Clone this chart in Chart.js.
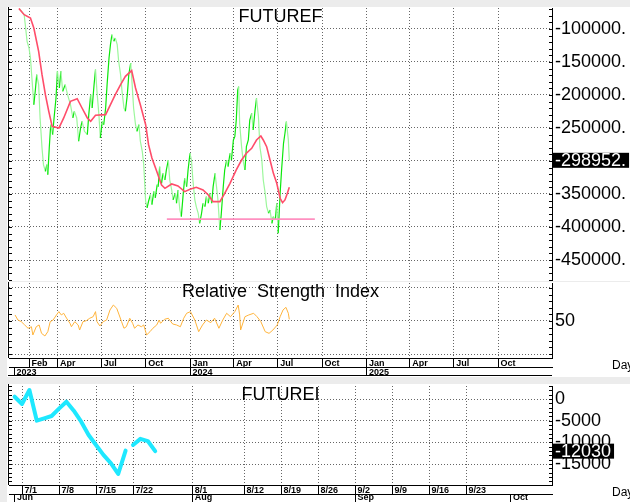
<!DOCTYPE html>
<html lang="en">
<head>
<meta charset="UTF-8">
<title>FUTUREF / FUTUREI</title>
<script src="https://cdn.jsdelivr.net/npm/chart.js"></script>
<style>
  body { margin: 0; width: 630px; height: 502px; background: #ececec; position: relative; overflow: hidden; }
  canvas { position: absolute; left: 7px; background: #fff; }
  #top { top: 7px; }
  #rsi { top: 282px; }
  #bottom { top: 384px; }
</style>
</head>
<body>
<canvas id="top" width="623" height="274"></canvas>
<canvas id="rsi" width="623" height="95"></canvas>
<canvas id="bottom" width="623" height="118"></canvas>
<script>
// FUTUREF close (roughly every 3-4 days)
const closeDates = [
  '2023-01-12','2023-01-22','2023-01-25','2023-01-28','2023-02-01','2023-02-04','2023-02-07','2023-02-11','2023-02-14','2023-02-17',
  '2023-02-21','2023-02-24','2023-02-28','2023-03-03','2023-03-07','2023-03-10','2023-03-12','2023-03-15','2023-03-18','2023-03-22',
  '2023-03-25','2023-03-29','2023-04-01','2023-04-05','2023-04-08','2023-04-12','2023-04-17','2023-04-22','2023-04-28','2023-05-03',
  '2023-05-06','2023-05-11','2023-05-15','2023-05-19','2023-05-22','2023-05-27','2023-06-02','2023-06-05','2023-06-09','2023-06-12',
  '2023-06-16','2023-06-19','2023-06-22','2023-06-26','2023-06-29','2023-07-03','2023-07-06','2023-07-10','2023-07-13','2023-07-17',
  '2023-07-20','2023-07-23','2023-07-27','2023-07-30','2023-08-03','2023-08-06','2023-08-10','2023-08-13','2023-08-17','2023-08-20',
  '2023-08-24','2023-08-27','2023-08-31','2023-09-03','2023-09-06','2023-09-10','2023-09-13','2023-09-17','2023-09-20','2023-09-24',
  '2023-09-27','2023-10-01','2023-10-04','2023-10-07','2023-10-11','2023-10-14','2023-10-18','2023-10-21','2023-10-25','2023-10-27',
  '2023-10-30','2023-11-03','2023-11-06','2023-11-10','2023-11-13','2023-11-17','2023-11-20','2023-11-24','2023-11-27','2023-12-01',
  '2023-12-04','2023-12-07','2023-12-11','2023-12-14','2023-12-18','2023-12-21','2023-12-25','2023-12-28','2024-01-01','2024-01-04',
  '2024-01-07','2024-01-11','2024-01-14','2024-01-18','2024-01-21','2024-01-25','2024-01-28','2024-02-01','2024-02-04','2024-02-08',
  '2024-02-11','2024-02-15','2024-02-18','2024-02-22','2024-02-25','2024-02-28','2024-03-03','2024-03-06','2024-03-10','2024-03-13',
  '2024-03-17','2024-03-20','2024-03-24','2024-03-27','2024-03-31','2024-04-03','2024-04-06','2024-04-09','2024-04-11','2024-04-13',
  '2024-04-17','2024-04-20','2024-04-24','2024-04-27','2024-05-01','2024-05-04','2024-05-08','2024-05-11','2024-05-15','2024-05-18',
  '2024-05-22','2024-05-25','2024-05-29','2024-06-01','2024-06-05','2024-06-08','2024-06-12','2024-06-15','2024-06-19','2024-06-22',
  '2024-06-26','2024-06-29','2024-07-02','2024-07-06','2024-07-09','2024-07-13','2024-07-16','2024-07-19','2024-07-23','2024-07-25'
];
const closeValues = [
  -69000, -78300, -98500, -118700, -128800, -144000, -174000, -214700, -194000, -169200,
  -184300, -234800, -280300, -305500, -315600, -305500, -320700, -280300, -245000, -260000,
  -234800, -204500, -164100, -189400, -164100, -194500, -184300, -199500, -214700, -234800,
  -224700, -234800, -270100, -250000, -239800, -255000, -260000, -229800, -199500, -219700,
  -184300, -161600, -194500, -229800, -265100, -239800, -245000, -219700, -184300, -144000,
  -123800, -108600, -118700, -113600, -123800, -148900, -169200, -194500, -219700, -224700,
  -199500, -169200, -151500, -184300, -219700, -245000, -255000, -245000, -270100, -285300,
  -305500, -361000, -371200, -361000, -351000, -366200, -346000, -356000, -335900, -339000,
  -308600, -333800, -318700, -328800, -313600, -298500, -328800, -343900, -359000, -349000,
  -364000, -343900, -374200, -384300, -349000, -326300, -339000, -313600, -288300, -298500,
  -328800, -359000, -369100, -379200, -394400, -379200, -364000, -369100, -354000, -364000,
  -349000, -364000, -338900, -318700, -338900, -359000, -404500, -379200, -338900, -313600,
  -298500, -308600, -288300, -298500, -268200, -263100, -237900, -192400, -187400, -242900,
  -278300, -298500, -313600, -278300, -268200, -237900, -227800, -253000, -222700, -205000,
  -232900, -278300, -298500, -328800, -349000, -369100, -379200, -374200, -394400, -384300,
  -389400, -364000, -409500, -349000, -313600, -273200, -258000, -240400, -268000, -298952
];

// moving average
const maDates = [
  '2023-01-11','2023-01-22','2023-02-04','2023-02-11','2023-02-21','2023-02-28','2023-03-07','2023-03-14','2023-03-21','2023-04-04',
  '2023-04-14','2023-04-28','2023-05-12','2023-05-22','2023-06-02','2023-06-09','2023-06-19','2023-07-10','2023-07-20','2023-07-30',
  '2023-08-10','2023-08-20','2023-09-02','2023-09-10','2023-09-20','2023-10-01','2023-10-07','2023-10-14','2023-10-23','2023-11-03',
  '2023-11-10','2023-11-24','2023-12-07','2023-12-21','2024-01-01','2024-01-14','2024-01-28','2024-02-08','2024-02-18','2024-03-03',
  '2024-03-13','2024-03-24','2024-04-06','2024-04-17','2024-04-27','2024-05-08','2024-05-18','2024-05-27','2024-06-01','2024-06-08',
  '2024-06-15','2024-06-22','2024-06-29','2024-07-06','2024-07-11','2024-07-16','2024-07-21','2024-07-25'
];
const maValues = [
  -69000, -78300, -83300, -98500, -133800, -169200, -199500, -224700, -247400, -250000,
  -234800, -209600, -205600, -219700, -234800, -239800, -230800, -229800, -214700, -199500,
  -184300, -171700, -163100, -189400, -214700, -245000, -275300, -295500, -313600, -336400,
  -341400, -334800, -337900, -346500, -342900, -339900, -343900, -351500, -361600, -361600,
  -349000, -333800, -313600, -298500, -288300, -280800, -268200, -262100, -268200, -278300,
  -298500, -318700, -333800, -356500, -363200, -359000, -349000, -339900
];

// support line
const supportDates = ['2023-11-14', '2024-09-16'];
const supportValues = [-388000, -388000];

// Relative Strength Index
const rsiDates = [
  '2023-01-03','2023-01-09','2023-01-16','2023-01-23','2023-01-30','2023-02-06','2023-02-09','2023-02-16','2023-02-22','2023-02-27',
  '2023-03-06','2023-03-12','2023-03-17','2023-03-23','2023-03-30','2023-04-04','2023-04-09','2023-04-14','2023-04-20','2023-04-27',
  '2023-04-30','2023-05-07','2023-05-14','2023-05-17','2023-05-24','2023-05-31','2023-06-07','2023-06-14','2023-06-19','2023-06-22',
  '2023-06-28','2023-07-05','2023-07-12','2023-07-19','2023-07-26','2023-08-02','2023-08-07','2023-08-12','2023-08-17','2023-08-22',
  '2023-08-29','2023-09-04','2023-09-08','2023-09-15','2023-09-22','2023-09-27','2023-10-03','2023-10-10','2023-10-16','2023-10-24',
  '2023-10-29','2023-11-01','2023-11-09','2023-11-17','2023-11-26','2023-12-04','2023-12-12','2023-12-19','2023-12-25','2024-01-02',
  '2024-01-11','2024-01-19','2024-01-27','2024-02-04','2024-02-13','2024-02-21','2024-03-01','2024-03-09','2024-03-17','2024-03-25',
  '2024-04-03','2024-04-10','2024-04-13','2024-04-15','2024-04-24','2024-05-02','2024-05-12','2024-05-19','2024-05-27','2024-06-05',
  '2024-06-13','2024-06-21','2024-06-30','2024-07-06','2024-07-12','2024-07-18','2024-07-23','2024-07-25'
];
const rsiValues = [
  55.5, 50.9, 49.4, 46.4, 43.4, 44.8, 37.3, 44.8, 46.4, 38.8,
  36.4, 40.3, 49.4, 50.9, 55.5, 58.5, 55.5, 57, 52.5, 47.9,
  44.8, 49.4, 46.4, 41.8, 49.4, 50.3, 52.5, 53.9, 58.5, 49.4,
  45.5, 49.4, 50.9, 60, 64.5, 61.5, 55.5, 49.4, 43.4, 44.8,
  52.5, 47.9, 43.4, 46.4, 44.8, 46.4, 37.3, 40.3, 43.4, 46.4,
  50.9, 47.9, 51.5, 52.5, 47.3, 46.4, 44.8, 52.5, 57, 58.5,
  50.9, 40.3, 46.4, 50.9, 48.5, 52.5, 43.4, 50.9, 57, 53.9,
  58.5, 64.5, 55.5, 41.8, 53.9, 55.5, 57, 53.9, 49.4, 40.3,
  38.8, 41.8, 46.4, 53.9, 60, 62.4, 57, 51.5
];

// FUTUREI (two pieces, the line breaks after 7/19)
const futureiDatesA = ['2024-06-28','2024-07-01','2024-07-02','2024-07-03','2024-07-04','2024-07-05','2024-07-08','2024-07-09',
  '2024-07-10','2024-07-11','2024-07-12','2024-07-15','2024-07-16','2024-07-17','2024-07-18','2024-07-19'];
const futureiValuesA = [530, -1150, 2070, -5000, -4450, -3920, -2230, -620, -2700, -5230, -8300, -10600, -12900, -14800, -17300, -11900];
const futureiDatesB = ['2024-07-22','2024-07-23','2024-07-24','2024-07-25'];
const futureiValuesB = [-10600, -9200, -9700, -12030];

// axis ticks
const priceTicks = [-100000, -150000, -200000, -250000, -300000, -350000, -400000, -450000];
const priceTickLabels = ['-100000.', '-150000.', '-200000.', '-250000.', '', '-350000.', '-400000.', '-450000.'];
const rsiTicks = [20, 50, 80];
const rsiTickLabels = ['', '50', ''];
const futureiTicks = [0, -5000, -10000, -15000];
const futureiTickLabels = ['0', '-5000', '-10000', '-15000'];
const monthTickDates = ['2023-02-01','2023-04-01','2023-07-01','2023-10-01','2024-01-01','2024-04-01','2024-07-01','2024-10-01',
  '2025-01-01','2025-04-01','2025-07-01','2025-10-01'];
const monthTickLabels = ['Feb','Apr','Jul','Oct','Jan','Apr','Jul','Oct','Jan','Apr','Jul','Oct'];
const yearTickDates = ['2023-01-01','2024-01-01','2025-01-01'];
const yearTickLabels = ['2023','2024','2025'];
const dayTickDates = ['2024-07-01','2024-07-08','2024-07-15','2024-07-22','2024-08-01','2024-08-12','2024-08-19','2024-08-26',
  '2024-09-02','2024-09-09','2024-09-16','2024-09-23'];
const dayTickLabels = ['7/1','7/8','7/15','7/22','8/1','8/12','8/19','8/26','9/2','9/9','9/16','9/23'];
const dayMonthDates = ['2024-06-28','2024-08-01','2024-09-02','2024-10-01'];
const dayMonthLabels = ['Jun','Aug','Sep','Oct'];

// helpers: calendar days since 2023-01-01, trading days since 2024-07-01
const DAY = 86400000;
function utc(s) { const [y, m, d] = s.split('-').map(Number); return Date.UTC(y, m - 1, d); }
function dayNum(s) { return (utc(s) - Date.UTC(2023, 0, 1)) / DAY; }
function tradeNum(s) {
  const diff = (utc(s) - Date.UTC(2024, 6, 1)) / DAY;
  const w = Math.floor(diff / 7);
  return w * 5 + Math.min(diff - w * 7, 5);
}
const pts = (dates, vals, f) => dates.map((d, i) => ({x: f(d), y: vals[i]}));

const FONT = '"Liberation Sans", Arial, sans-serif';
const BIG = {family: FONT, size: 18};
const SMALL = {family: FONT, size: 9, weight: 'bold'};
const GRID = '#666666';

// right-hand value axis, dotted grid lines at each tick
function yAxis(min, max, ticks, labels) {
  return {
    position: 'right', min, max, bounds: 'data',
    afterBuildTicks: s => { s.ticks = ticks.map(v => ({value: v})); },
    afterFit: s => { s.width = 78; s.paddingTop = 0; s.paddingBottom = 0; },
    ticks: {callback: (v, i) => labels[i], color: '#000', font: BIG, padding: 3, autoSkip: false},
    grid: {color: GRID, lineWidth: 1, drawTicks: false},
    border: {display: true, color: '#000', dash: [1, 2]}
  };
}

// date rows under the plot; labels sit right of the tick line
function xAxis(min, max, ticks, labels, o) {
  return {
    type: 'linear', axis: 'x', position: 'bottom', min, max, bounds: 'data',
    weight: o.weight || 0,
    afterBuildTicks: s => { s.ticks = ticks.map(v => ({value: v})); },
    afterFit: s => { s.height = o.height; s.paddingLeft = 0; s.paddingRight = 0; },
    ticks: {display: o.labels !== false, callback: (v, i) => ' ' + labels[i], autoSkip: false, maxRotation: 0,
      align: 'start', color: '#000', font: SMALL, padding: -o.tick - (o.shift || 0)},
    grid: {color: GRID, lineWidth: 1, drawOnChartArea: o.area, drawTicks: o.tick > 0, tickLength: o.tick || 1,
      tickColor: '#000', tickBorderDash: []},
    border: {display: o.border, color: '#000', dash: [1, 2]}
  };
}

// titles, side tick marks, last value box, "Day" label
const decor = {
  id: 'decor',
  afterDraw(chart, args, o) {
    const {ctx, chartArea: a, scales} = chart;
    const y = scales.y;
    ctx.save();
    ctx.strokeStyle = '#000';
    ctx.lineWidth = 1;
    ctx.beginPath();
    ctx.moveTo(a.left - 0.5, 0);
    ctx.lineTo(a.left - 0.5, a.bottom);
    const marks = [];
    for (let v = o.base; v >= y.min; v -= o.step) marks.push(v);
    for (let v = o.base + o.step; v <= y.max; v += o.step) marks.push(v);
    marks.forEach(v => {
      const py = Math.round(y.getPixelForValue(v)) + 0.5;
      ctx.moveTo(a.left, py); ctx.lineTo(a.left + 3, py);
      ctx.moveTo(a.right - 3, py); ctx.lineTo(a.right, py);
    });
    if (o.bottomLine) {
      ctx.moveTo(a.left - 1, scales.x2.bottom - 0.5);
      ctx.lineTo(a.right, scales.x2.bottom - 0.5);
    }
    ctx.stroke();

    ctx.fillStyle = '#000';
    ctx.font = '18px ' + FONT;
    ctx.textAlign = 'center';
    ctx.textBaseline = 'alphabetic';
    ctx.fillText(o.title, (a.left + a.right) / 2, a.top + 14);

    if (o.last) {
      const py = y.getPixelForValue(o.last.value);
      const w = ctx.measureText(o.last.text).width + 5;
      ctx.fillStyle = '#000';
      ctx.fillRect(a.right + 1, py - 7.5, w, 15);
      ctx.fillStyle = '#fff';
      ctx.textAlign = 'left';
      ctx.textBaseline = 'middle';
      ctx.fillText(o.last.text, a.right + 3, py + 1);
    }
    if (o.day) {
      ctx.fillStyle = '#000';
      ctx.font = '12px ' + FONT;
      ctx.textAlign = 'left';
      ctx.textBaseline = 'middle';
      ctx.fillText('Day', a.right + 60, scales.x2.top - 1);
    }
    ctx.restore();
  }
};

const base = {
  animation: false, responsive: false, devicePixelRatio: 1,
  elements: {point: {radius: 0}, line: {tension: 0}},
  events: []
};

// top: FUTUREF
const dMin = -10.5, dMax = 1116;
new Chart(document.getElementById('top'), {
  type: 'line',
  data: {
    datasets: [
      {data: pts(maDates, maValues, dayNum), borderColor: '#ff4d6a', borderWidth: 1.6},
      {data: pts(supportDates, supportValues, dayNum), borderColor: '#ff90c0', borderWidth: 1.6},
      {data: pts(closeDates, closeValues, dayNum), borderColor: '#22ee22', borderWidth: 1.2,
        segment: {borderColor: c => c.p1.parsed.y >= c.p0.parsed.y ? '#0ce80c' : '#9cf79c'}}
    ]
  },
  options: {
    ...base,
    layout: {padding: {left: 2, top: 1, right: 0, bottom: 1}},
    scales: {
      x: xAxis(dMin, dMax, monthTickDates.map(dayNum), monthTickLabels, {height: 0, tick: 0, area: true, labels: false, border: false}),
      y: yAxis(-480300, -68200, priceTicks, priceTickLabels)
    },
    plugins: {
      legend: {display: false}, tooltip: {enabled: false},
      decor: {title: 'FUTUREF', step: 10000, base: 0,
        last: {value: closeValues[closeValues.length - 1], text: closeValues[closeValues.length - 1] + '.'}}
    }
  },
  plugins: [decor]
});

// middle: RSI
new Chart(document.getElementById('rsi'), {
  type: 'line',
  data: {
    datasets: [
      {data: pts(rsiDates, rsiValues, dayNum), borderColor: '#ffb43c', borderWidth: 1}
    ]
  },
  options: {
    ...base,
    layout: {padding: {left: 2, top: 1, right: 0, bottom: 1}},
    scales: {
      x: xAxis(dMin, dMax, monthTickDates.map(dayNum), monthTickLabels, {height: 9, tick: 9, area: true, border: true}),
      x2: xAxis(dMin, dMax, yearTickDates.map(dayNum), yearTickLabels, {height: 9, tick: 9, area: false, border: true, weight: 1}),
      y: yAxis(16.4, 84.5, rsiTicks, rsiTickLabels)
    },
    plugins: {
      legend: {display: false}, tooltip: {enabled: false},
      decor: {title: 'Relative  Strength  Index', step: 6, base: 50, day: true, bottomLine: true}
    }
  },
  plugins: [decor]
});

// bottom: FUTUREI on a trading-day axis
const tMin = -1.757, tMax = 71.62;
const cyan = {borderColor: '#1ee8ff', borderWidth: 4, borderJoinStyle: 'round', borderCapStyle: 'round'};
new Chart(document.getElementById('bottom'), {
  type: 'line',
  data: {
    datasets: [
      {data: pts(futureiDatesA, futureiValuesA, tradeNum), ...cyan},
      {data: pts(futureiDatesB, futureiValuesB, tradeNum), ...cyan}
    ]
  },
  options: {
    ...base,
    layout: {padding: {left: 2, top: 2, right: 0, bottom: 0}},
    scales: {
      x: xAxis(tMin, tMax, dayTickDates.map(tradeNum), dayTickLabels, {height: 9, tick: 9, area: true, border: true}),
      x2: xAxis(tMin, tMax, dayMonthDates.map(tradeNum), dayMonthLabels, {height: 8, tick: 8, area: false, border: true, weight: 1, shift: 2}),
      y: yAxis(-19840, 3000, futureiTicks, futureiTickLabels)
    },
    plugins: {
      legend: {display: false}, tooltip: {enabled: false},
      decor: {title: 'FUTUREI', step: 1000, base: 0, day: true,
        last: {value: futureiValuesB[futureiValuesB.length - 1], text: String(futureiValuesB[futureiValuesB.length - 1])}}
    }
  },
  plugins: [decor]
});
</script>
</body>
</html>
